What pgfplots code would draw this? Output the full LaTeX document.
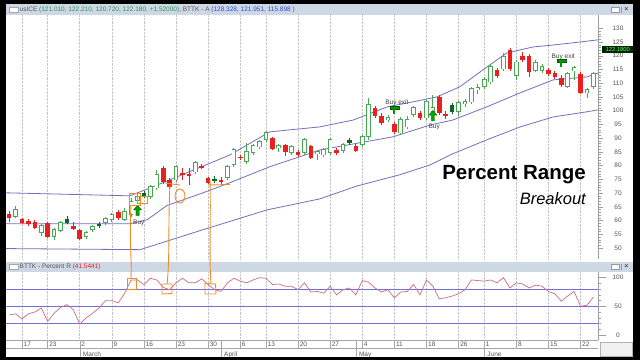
\documentclass[border=0pt]{standalone}
\usepackage{pgfplots}
\pgfplotsset{compat=1.18}
\usepackage{pgfplotstable}
\usepackage{fontspec}
\setmainfont{Liberation Sans}
\definecolor{redc}{RGB}{232,32,30}
\definecolor{greenc}{RGB}{72,168,84}
\definecolor{darkg}{RGB}{8,105,38}
\definecolor{bandc}{RGB}{112,112,192}
\definecolor{rline}{RGB}{205,110,120}
\definecolor{lvl}{RGB}{112,112,215}
\definecolor{barc}{RGB}{206,216,229}
\definecolor{orng}{RGB}{240,140,40}
\definecolor{txtg}{RGB}{85,85,85}
\definecolor{hdrg}{RGB}{40,150,80}
\definecolor{hdrb}{RGB}{45,80,200}

\pgfplotstableread{
i o h l c
-2 62.5 63.6 59.6 61.0
0 60.7 61.0 58.8 59.2
1 59.9 60.7 58.1 58.8
2 59.6 60.3 57.0 57.4
4 59.2 59.6 53.7 54.1
8 58.1 59.6 56.7 57.0
9 56.7 57.0 53.0 53.4
15 63.2 63.9 60.3 61.0
22 79.2 79.9 73.4 74.1
23 74.8 75.6 71.6 72.3
25 77.4 79.2 74.8 76.7
26 77.0 79.2 73.0 76.3
28 79.9 80.7 78.8 79.2
29 75.6 75.9 73.4 73.7
31 74.8 75.9 73.0 74.1
34 83.2 83.9 82.1 82.8
39 90.1 90.5 85.7 86.1
41 87.6 87.9 83.6 85.0
43 85.0 85.7 83.2 83.9
45 87.2 87.6 82.5 82.8
49 85.7 86.5 83.9 84.7
52 87.2 87.9 85.0 85.4
55 101.0 101.7 97.4 98.1
56 98.1 99.2 94.8 95.6
58 95.2 95.9 91.6 92.3
62 99.2 99.9 96.7 97.4
65 105.0 105.7 98.5 99.2
66 98.8 99.9 97.0 98.1
74 114.8 115.6 111.9 112.7
76 122.1 122.8 114.5 115.2
78 119.9 121.4 117.7 118.5
79 119.9 120.7 112.3 114.1
82 114.8 115.6 112.7 113.4
83 113.7 114.5 111.6 112.3
84 111.9 113.0 108.7 109.4
87 113.4 114.1 106.1 106.5
}\redT

\pgfplotstableread{
i o h l c
-1 61.4 65.4 61.0 63.9
3 55.6 58.8 54.5 58.1
5 54.1 57.4 53.0 56.7
6 56.3 59.9 55.9 59.2
10 54.1 56.3 53.4 55.6
11 56.7 58.5 55.9 57.7
13 59.2 61.4 58.5 60.7
14 60.3 62.8 59.6 62.1
16 60.3 64.7 59.9 63.2
17 62.1 68.3 61.4 66.8
18 67.2 69.7 66.5 68.7
20 68.7 73.0 67.9 72.3
21 71.9 78.5 71.2 76.7
24 74.8 80.3 74.1 79.6
27 77.7 81.7 77.0 81.0
32 75.6 80.3 74.8 79.6
33 80.3 86.5 79.6 85.7
35 81.4 88.3 80.7 85.0
36 84.7 87.9 83.9 87.2
37 86.8 89.4 86.1 88.7
38 89.4 92.7 88.7 91.9
40 86.5 87.9 85.0 87.2
42 84.7 87.6 83.9 86.8
44 84.7 90.1 83.9 89.4
46 84.3 85.7 82.1 85.0
47 83.9 86.5 83.2 85.7
48 84.7 90.1 83.9 89.4
50 85.4 88.3 84.7 87.6
53 87.6 91.2 86.8 90.5
54 90.5 104.7 89.4 102.1
57 96.7 98.5 95.9 97.4
59 91.9 97.7 91.2 96.7
60 94.1 98.1 93.4 96.7
61 98.5 101.7 97.7 101.0
63 97.4 103.9 96.7 103.2
64 99.6 105.7 98.5 101.0
68 99.6 103.6 98.1 102.8
69 102.5 104.3 101.4 103.2
70 103.2 108.7 102.5 107.9
71 107.6 109.7 106.1 108.3
72 108.7 112.3 107.9 111.2
73 110.5 117.0 109.7 115.9
75 115.2 121.0 114.5 119.6
77 112.7 118.5 111.2 117.7
80 114.8 118.5 114.1 117.4
81 114.8 117.0 113.7 115.9
85 109.0 114.1 108.3 113.4
86 114.5 116.3 111.2 115.6
88 106.5 108.3 104.7 107.6
89 108.7 114.1 107.9 113.4
}\greenT

\pgfplotstableread{
i o h l c
7 59.2 61.7 58.8 60.7
12 58.1 59.6 57.4 58.8
19 68.7 70.8 68.3 70.1
30 74.5 76.3 73.7 75.2
51 88.3 90.1 87.6 89.4
67 99.6 102.8 98.8 102.1
}\darkT

\pgfplotstableread{
i r
-2 35
-1 37
0 28
1 37
2 40
3 47
4 24
5 38
6 48
7 53
8 44
9 19
10 30
11 38
12 47
13 60
14 60
15 56
16 73
17 96
18 96
19 88
20 99
21 96
22 83
23 79
24 91
25 99
26 91
27 91
28 98
29 88
30 79
31 76
32 91
33 99
34 94
35 91
36 96
37 100
38 99
39 88
40 89
41 85
42 85
43 79
44 91
45 75
46 76
47 73
48 85
49 70
50 79
51 82
52 70
53 95
54 92
55 82
56 75
57 79
58 65
59 75
60 76
61 88
62 70
63 96
64 85
65 63
66 65
67 68
68 72
69 79
70 96
71 95
72 94
73 96
74 91
75 100
76 82
77 91
78 89
79 82
80 87
81 85
82 76
83 72
84 59
85 68
86 76
87 50
88 52
89 66
}\pctT

\pgfdeclareplotmark{uparrow}{%
  \pgfpathmoveto{\pgfpoint{0pt}{5.5pt}}%
  \pgfpathlineto{\pgfpoint{4pt}{0.8pt}}%
  \pgfpathlineto{\pgfpoint{1.6pt}{0.8pt}}%
  \pgfpathlineto{\pgfpoint{1.6pt}{-5pt}}%
  \pgfpathlineto{\pgfpoint{-1.6pt}{-5pt}}%
  \pgfpathlineto{\pgfpoint{-1.6pt}{0.8pt}}%
  \pgfpathlineto{\pgfpoint{-4pt}{0.8pt}}%
  \pgfpathclose\pgfusepathqfillstroke}
\pgfdeclareplotmark{exitflag}{%
  \pgfpathrectangle{\pgfpoint{-4.5pt}{0.5pt}}{\pgfpoint{9pt}{2.8pt}}\pgfusepathqfillstroke
  \pgfpathrectangle{\pgfpoint{-0.9pt}{-4pt}}{\pgfpoint{1.8pt}{4.6pt}}\pgfusepathqfill}

\tikzset{tfont/.style={font=\fontsize{6.5}{7}\selectfont, text=txtg}}
\pgfplotsset{
  wick/.style={draw=none, mark=none, forget plot, error bars/.cd, y dir=both, y explicit,
    error mark=none, error bar style={draw=#1, line width=0.8pt, solid}},
  body/.style 2 args={draw=none, mark=none, forget plot, error bars/.cd, y dir=both, y explicit,
    error mark=none, error bar style={draw=#1, line width=#2, solid}},
}

\begin{document}
\begin{tikzpicture}[x=1pt,y=1pt]
\useasboundingbox (0,0) rectangle (640,360);
\fill[black] (0,0) rectangle (640,360);
\fill[white] (6,3) rectangle (633,356);
% title bars
\fill[barc] (6,345) rectangle (633,356);
\fill[barc] (6,88) rectangle (633,98);
\draw[gray!70, fill=white] (9,347.5) rectangle (18,353);
\draw[gray!70, fill=white] (9,90.5) rectangle (18,96);
\node[anchor=west, inner sep=0pt, font=\fontsize{6.5}{7}\selectfont] at (19.5,350.5)
 {\textcolor{txtg}{usICE} \textcolor{hdrg}{(121.010, 122.210, 120.720, 122.180, +1.52000)}\textcolor{txtg}{, BTTK - A} \textcolor{hdrb}{(128.328, 121.951, 115.898 )}};
\node[anchor=west, inner sep=0pt, font=\fontsize{6.5}{7}\selectfont] at (19.5,93)
 {\textcolor{txtg}{BTTK - Percent R} \textcolor{redc}{(41.5441)}};
\foreach \yy in {347.5,90.5}{
  \draw[gray!80, fill=white] (611,\yy) rectangle (619,\yy+5.5);
  \draw[gray!80] (621,\yy) -- (621,\yy+5.5);
  \node[inner sep=0pt, font=\fontsize{7}{7}\selectfont\bfseries, text=txtg] at (626.5,\yy+2.8) {×};
}
% date bar frame
\draw[gray!70, line width=0.5pt] (6,11.3) -- (598,11.3);
\draw[gray!60, fill=gray!12] (600,4) rectangle (632,18);

% ---------------- price panel ----------------
\begin{axis}[
  at={(6pt,101pt)}, anchor=south west, scale only axis,
  width=592pt, height=244pt,
  xmin=-2.49, xmax=89.72, ymin=46.0, ymax=134.84,
  axis x line*=bottom, axis y line*=right,
  x axis line style={draw=none},
  y axis line style={draw=gray!75, line width=0.6pt},
  xtick={0,4,9,14,19,24,29,34,38,43,48,53,58,63,68,72,77,82,87},
  xticklabels={}, x tick style={draw=none},
  xmajorgrids, major x grid style={gray!45, densely dotted, line width=0.6pt},
  ytick={50,55,...,130}, minor y tick num=4,
  tick align=outside, major tick length=5pt, minor tick length=2.5pt,
  y tick style={gray!75, line width=0.5pt},
  /pgf/number format/assume math mode=true,
  yticklabel style={tfont, anchor=center, xshift=15pt},
  clip=false,
]
\addplot[bandc, line width=0.8pt] coordinates {(-2.49,70.1) (16.8,69.0) (20.4,72.3) (25.7,77.4) (32.4,83.9) (38.6,92.3) (46.4,94.1) (51.6,96.6) (56.9,101.4) (60,102.8) (64.6,105.0) (68.2,108.7) (72.4,115.9) (75.5,121.0) (79.6,123.2) (82.7,123.9) (86.9,125.0) (89.72,125.8)};
\addplot[bandc, line width=0.8pt] coordinates {(-2.49,58.8) (16.8,58.8) (19.5,60.3) (22.6,65.5) (28.2,70.1) (32.4,73.8) (38.6,79.6) (46.4,85.7) (57.8,90.5) (63.6,94.8) (67.1,96.6) (72.4,101.4) (77.6,106.5) (82.7,111.2) (88,112.3) (89.72,113.7)};
\addplot[bandc, line width=0.8pt] coordinates {(-2.49,49.8) (18.4,49.4) (27.7,56.3) (38.2,63.9) (46.4,67.9) (52.2,72.6) (58.9,76.7) (63.6,80.3) (67.1,84.3) (72.4,89.4) (77.6,94.1) (82.7,97.7) (88,99.6) (89.72,100.3)};
% wicks
\addplot[wick=redc] table[x=i, y expr=(\thisrow{h}+\thisrow{l})/2, y error expr=(\thisrow{h}-\thisrow{l})/2] {\redT};
\addplot[wick=greenc] table[x=i, y expr=(\thisrow{h}+\thisrow{l})/2, y error expr=(\thisrow{h}-\thisrow{l})/2] {\greenT};
\addplot[wick=darkg] table[x=i, y expr=(\thisrow{h}+\thisrow{l})/2, y error expr=(\thisrow{h}-\thisrow{l})/2] {\darkT};
% bodies
\addplot[body={redc}{4.6pt}] table[x=i, y expr=(\thisrow{o}+\thisrow{c})/2, y error expr={max(abs(\thisrow{o}-\thisrow{c})/2,0.3)}] {\redT};
\addplot[body={darkg}{4.6pt}] table[x=i, y expr=(\thisrow{o}+\thisrow{c})/2, y error expr={max(abs(\thisrow{o}-\thisrow{c})/2,0.3)}] {\darkT};
\addplot[body={greenc}{4.6pt}] table[x=i, y expr=(\thisrow{o}+\thisrow{c})/2, y error expr={abs(\thisrow{o}-\thisrow{c})/2+0.2}] {\greenT};
\addplot[body={white}{2.8pt}] table[x=i, y expr=(\thisrow{o}+\thisrow{c})/2, y error expr={max(abs(\thisrow{o}-\thisrow{c})/2-0.12,0)}] {\greenT};
% signals
\addplot[only marks, mark=uparrow, mark options={fill=green!65!black, draw=green!35!black, line width=0.3pt}] coordinates {(18,63.6) (64,98.1)};
\addplot[only marks, mark=exitflag, mark options={fill=green!60!black, draw=green!35!black, line width=0.3pt}] coordinates {(58,100.3) (84,117.4)};
\node[tfont, text=black!75] at (axis cs:18.2,59.3) {Buy};
\node[tfont, text=black!75] at (axis cs:64.2,94.1) {Buy};
\node[tfont, text=black!75] at (axis cs:58.4,102.9) {Buy exit};
\node[tfont, text=black!75] at (axis cs:84.3,119.6) {Buy exit};
\end{axis}

% ---------------- Percent R panel ----------------
\begin{axis}[
  at={(6pt,20pt)}, anchor=south west, scale only axis,
  width=592pt, height=68pt,
  xmin=-2.49, xmax=89.72, ymin=-8.7, ymax=109.9,
  axis x line*=bottom, axis y line*=right,
  x axis line style={draw=gray!70, line width=0.5pt},
  y axis line style={draw=gray!75, line width=0.6pt},
  xtick={0,4,9,14,19,24,29,34,38,43,48,53,58,63,68,72,77,82,87},
  xticklabels={17,23,2,9,16,23,30,6,13,20,27,4,11,18,26,1,8,15,22},
  xmajorgrids, major x grid style={gray!45, densely dotted, line width=0.6pt},
  x tick style={draw=gray!70, line width=0.5pt},
  xticklabel style={tfont, anchor=north west, inner sep=0pt, xshift=1.5pt, yshift=6.5pt},
  extra x ticks={9,31,52,72},
  extra x tick labels={March,April,May,June},
  extra x tick style={major tick length=17pt, xmajorgrids=false,
    xticklabel style={tfont, anchor=north west, inner sep=0pt, xshift=1.5pt, yshift=-1.5pt}},
  ytick={0,50,100}, minor y tick num=4,
  tick align=outside, major tick length=8pt, minor tick length=2.5pt,
  y tick style={gray!75, line width=0.5pt},
  /pgf/number format/assume math mode=true,
  yticklabel style={tfont, anchor=center, xshift=12pt},
]
\addplot[lvl, line width=0.9pt] coordinates {(-2.49,80) (89.72,80)};
\addplot[lvl, line width=0.9pt] coordinates {(-2.49,50) (89.72,50)};
\addplot[lvl, line width=0.9pt] coordinates {(-2.49,20) (89.72,20)};
\addplot[rline, line width=0.7pt] table[x=i, y=r] {\pctT};
\end{axis}

% price box
\node[anchor=west, fill=black!85!green, text=green!60!white, inner sep=1pt,
      minimum width=31pt, minimum height=7pt, font=\fontsize{5.8}{6}\selectfont] at (602,310.2) {122.1800};

% text annotation
\node[anchor=east, inner sep=0pt, font=\fontsize{20.5}{22}\selectfont\bfseries] at (586,185) {Percent Range};
\node[anchor=east, inner sep=0pt, font=\fontsize{16.5}{18}\selectfont\itshape] at (586,161.5) {Breakout};

% hand-drawn orange marks
\begin{scope}[orng, line width=0.9pt]
\draw (129,155) rectangle (140,167);
\draw (137,157) rectangle (147,163.5);
\draw (131,155) .. controls (129,120) and (132,100) .. (131,82);
\draw (127,71) rectangle (136,82);
\draw (165,177) -- (180,175);
\draw (180,164) ellipse (5 and 7);
\draw (170,175) .. controls (168,140) and (170,100) .. (167,76);
\draw (162,66) -- (172,66.5) -- (172,76) -- (162,76) -- cycle;
\draw (208,175) -- (230,175.5);
\draw (210,180) .. controls (211,140) and (209,100) .. (211,76);
\draw (205,66) -- (216,66) -- (215.5,76) -- (205,76.5) -- cycle;
\end{scope}
\end{tikzpicture}
\end{document}
